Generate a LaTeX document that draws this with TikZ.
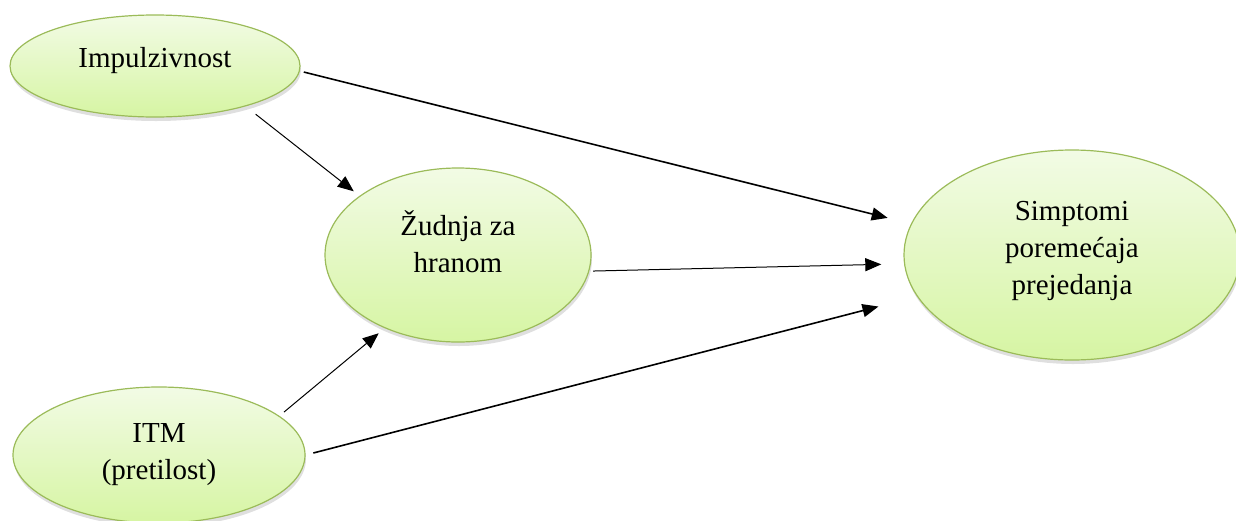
\documentclass[tikz,border=0pt]{standalone}
\usepackage{fontspec}
\setmainfont{Liberation Serif}
\usetikzlibrary{shapes.geometric,shadows,arrows.meta}

\definecolor{ovalline}{RGB}{155,187,89}
\definecolor{ovaltop}{RGB}{242,251,229}
\definecolor{ovalbottom}{RGB}{214,245,163}

\tikzset{
    oval/.style={ellipse, draw=ovalline, line width=1.2pt, top color=ovaltop, bottom color=ovalbottom,
        inner sep=0pt, align=center, font=\fontsize{29}{37}\selectfont,
        drop shadow={opacity=0.25, shadow xshift=1pt, shadow yshift=-4pt}},
    path/.style={-{Triangle[length=16pt,width=13pt]}, line width=1pt},
    mainpath/.style={path, line width=1.6pt}
}

\begin{document}
\begin{tikzpicture}[x=1pt,y=-1pt]
    \useasboundingbox (0,0) rectangle (1236,520);

    \node[oval, minimum width=290pt, minimum height=102pt, text depth=18pt] (imp) at (155,66) {Impulzivnost};
    \node[oval, minimum width=266pt, minimum height=174pt, text depth=26pt] (zud) at (458,255) {Žudnja za\\hranom};
    \node[oval, minimum width=336pt, minimum height=210pt, text depth=14pt] (sym) at (1072,255) {Simptomi\\poremećaja\\prejedanja};
    \node[oval, minimum width=292pt, minimum height=136pt] (itm) at (159,455) {ITM\\(pretilost)};

    \draw[mainpath, shorten <=4pt, shorten >=24pt] (imp.-2.3) -- (sym.169.2);
    \draw[path, shorten <=12.6pt, shorten >=7.3pt] (imp.-24.9) -- (zud.149.4);
    \draw[path, shorten <=3.7pt, shorten >=22.7pt] (zud.-7.65) -- (sym.183);
    \draw[path, shorten <=6pt, shorten >=7.8pt] (itm.18.16) -- (zud.225.7);
    \draw[mainpath, shorten <=8pt, shorten >=39.8pt] (itm.0) -- (sym.195.4);
\end{tikzpicture}
\end{document}
